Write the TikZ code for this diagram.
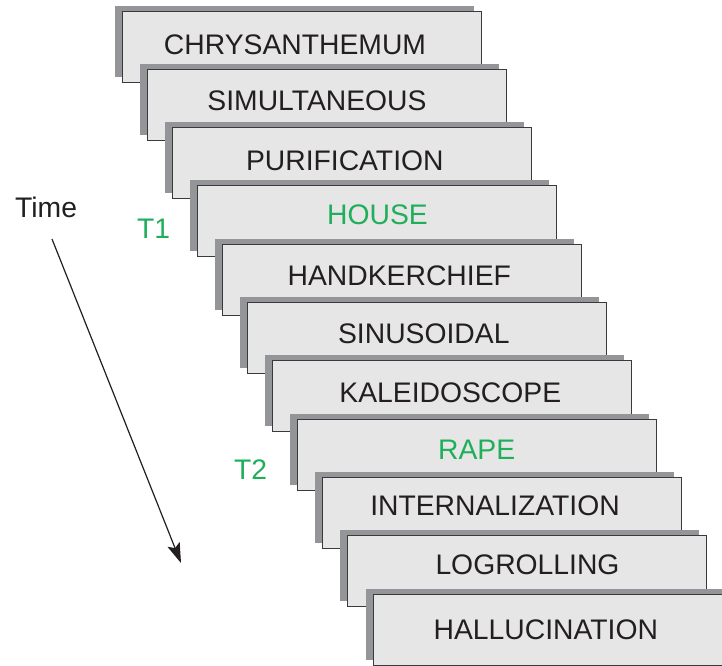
\documentclass[tikz,border=0pt]{standalone}
\usepackage{fontspec}
\setmainfont{Liberation Sans}
\usetikzlibrary{shadows,arrows.meta}
\definecolor{cardfill}{HTML}{E6E6E6}
\definecolor{cardline}{HTML}{3A3A3A}
\definecolor{shadowgray}{HTML}{939598}
\definecolor{inktext}{HTML}{231F20}
\definecolor{markgreen}{HTML}{1FAE5A}
\tikzset{
  card/.style={draw=cardline, line width=1pt, fill=cardfill,
    minimum width=359pt, minimum height=71pt, inner sep=0pt,
    general shadow={shadow xshift=-7.5pt, shadow yshift=5.5pt, fill=shadowgray, draw=none}},
  word/.style={text=inktext, inner sep=0pt, font=\fontsize{28.3pt}{32pt}\selectfont},
  greenword/.style={text=markgreen},
  sidelabel/.style={font=\fontsize{28.3pt}{32pt}\selectfont, inner sep=0pt, anchor=base west},
}
\begin{document}
\begin{tikzpicture}[x=1pt,y=-1pt]
\useasboundingbox (0,0) rectangle (722,665);
\clip (0,0) rectangle (722,665);
\foreach \i/\w/\s/\tx/\ty in {
  0/CHRYSANTHEMUM//295/44.7,
  1/SIMULTANEOUS//317/101.1,
  2/PURIFICATION//344.8/160.5,
  3/HOUSE/greenword/377.5/215.2,
  4/HANDKERCHIEF//399.3/276.1,
  5/SINUSOIDAL//423.8/333.3,
  6/KALEIDOSCOPE//450.3/392.9,
  7/RAPE/greenword/476.7/450.2,
  8/INTERNALIZATION//495/505.3,
  9/LOGROLLING//527.5/564.9,
  10/HALLUCINATION//545.8/630.2}{
  \node[card] (c\i) at ({122+25.1*\i+179.5},{11+58.3*\i+35.5}) {};
  \node[word,\s] (w\i) at (\tx,\ty) {\w};
}
\node[sidelabel, text=inktext] (time) at (15,217) {Time};
\node[sidelabel, text=markgreen] (t1) at (137,238) {T1};
\node[sidelabel, text=markgreen] (t2) at (234,479) {T2};
\coordinate (a0) at (52,239);
\coordinate (a1) at (181,563);
\draw[line width=1.2pt, draw=inktext, -{Stealth[length=20pt,width=13pt,inset=4pt]}] (a0) -- (a1);
\end{tikzpicture}
\end{document}
